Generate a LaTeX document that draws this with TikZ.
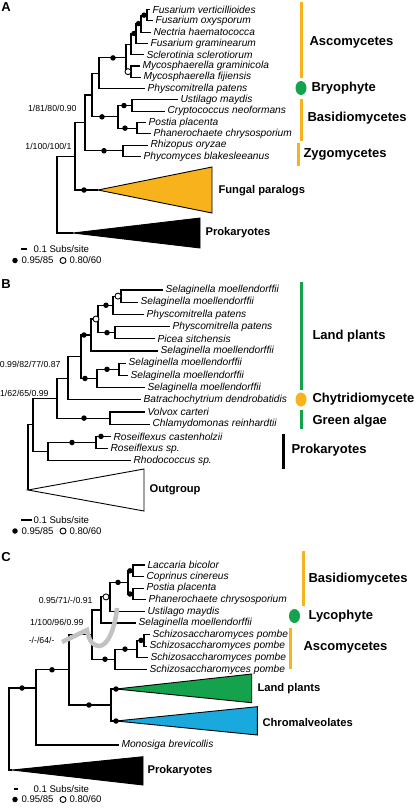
\documentclass[tikz,border=0pt]{standalone}
\usepackage{fontspec}
\setmainfont{Liberation Sans}
\usetikzlibrary{calc,shapes.geometric}

\definecolor{ambar}{HTML}{F8B31C}
\definecolor{leafgreen}{HTML}{14A24C}
\definecolor{skyblue}{HTML}{1AA9DC}
\definecolor{arcgrey}{HTML}{C2C2C2}

\tikzset{
  leaf/.style={anchor=west, inner sep=2pt, font=\fontsize{10.2}{12}\selectfont\itshape},
  grp/.style={anchor=west, inner sep=1pt, font=\fontsize{13}{15}\selectfont\bfseries},
  clade/.style={anchor=west, inner sep=2pt, font=\fontsize{11.2}{13}\selectfont\bfseries},
  supp/.style={anchor=east, inner sep=1pt, font=\fontsize{8.7}{10}\selectfont},
  lgd/.style={anchor=west, inner sep=1pt, font=\fontsize{9.6}{11}\selectfont},
  panel/.style={inner sep=0pt, font=\fontsize{13}{15}\selectfont\bfseries},
  fdot/.style={circle, fill=black, inner sep=0pt, minimum size=5.5pt},
  odot/.style={circle, draw=black, fill=white, inner sep=0pt, minimum size=6pt, line width=0.9pt},
  grpbar/.style={line width=3pt},
  blob/.style={ellipse, inner sep=0pt, minimum width=11pt, minimum height=14pt}
}

\begin{document}
\begin{tikzpicture}[x=1pt,y=-1pt,line width=1.1pt]
\useasboundingbox (0,0) rectangle (415,808);

% ===== Panel A =====
\node[panel] (pA) at (6,7) {A};

% Leaves
\node[leaf] (fv) at (150,9.5) {Fusarium verticillioides};
\node[leaf] (fo) at (153,20.8) {Fusarium oxysporum};
\node[leaf] (nh) at (151,32.1) {Nectria haematococca};
\node[leaf] (fg) at (148,43.4) {Fusarium graminearum};
\node[leaf] (ss) at (144,54.7) {Sclerotinia sclerotiorum};
\node[leaf] (mg) at (140,66) {Mycosphaerella graminicola};
\node[leaf] (mf) at (141,77.3) {Mycosphaerella fijiensis};
\node[leaf] (pp) at (145,88.6) {Physcomitrella patens};
\node[leaf] (um) at (178,99.9) {Ustilago maydis};
\node[leaf] (cn) at (165,111.2) {Cryptococcus neoformans};
\node[leaf] (pl) at (146,122.5) {Postia placenta};
\node[leaf] (pc) at (151,133.8) {Phanerochaete chrysosporium};
\node[leaf] (ro) at (148,145.1) {Rhizopus oryzae};
\node[leaf] (pb) at (141,156.4) {Phycomyces blakesleeanus};

% Internal nodes
\coordinate (a1) at (147,15.15);
\coordinate (a2) at (141,23.6);
\coordinate (a3) at (136,33.5);
\coordinate (a4) at (131,44.1);
\coordinate (a5) at (131,71.65);
\coordinate (a6) at (126,57.9);
\coordinate (a7) at (99,73.2);
\coordinate (b1) at (132,105.55);
\coordinate (b2) at (137,128.15);
\coordinate (b3) at (118,116.85);
\coordinate (za) at (123,150.75);
\coordinate (a8) at (92,95);
\coordinate (a9) at (85,122.9);
\coordinate (a10) at (75,156.5);
\coordinate (ra) at (57,233);
\coordinate (fpA) at (98,190);
\coordinate (pkA) at (73,233);

% Collapsed clades
\draw[fill=ambar, line width=0.9pt] (fpA) -- (212,167) -- (212,213) -- cycle;
\draw[fill=black, line width=0.9pt] (pkA) -- (200,218) -- (200,248) -- cycle;
\node[clade] (fpl) at (216,191) {Fungal paralogs};
\node[clade] (pkl) at (203,233) {Prokaryotes};

% Branches
\draw (a1) |- (fv.west) (a1) |- (fo.west);
\draw (a2) |- (a1) (a2) |- (nh.west);
\draw (a3) |- (a2) (a3) |- (fg.west);
\draw (a4) |- (a3) (a4) |- (ss.west);
\draw (a5) |- (mg.west) (a5) |- (mf.west);
\draw (a6) |- (a4) (a6) |- (a5);
\draw (a7) |- (a6) (a7) |- (pp.west);
\draw (b1) |- (um.west) (b1) |- (cn.west);
\draw (b2) |- (pl.west) (b2) |- (pc.west);
\draw (b3) |- (b1) (b3) |- (b2);
\draw (za) |- (ro.west) (za) |- (pb.west);
\draw (a8) |- (a7) (a8) |- (b3);
\draw (a9) |- (a8) (a9) |- (za);
\draw (a10) |- (a9) (a10) |- (fpA);
\draw (pkA) -- (ra) |- (a10);

% Support
\node[fdot] (d1) at ($(a1)+(-3,0)$) {};
\node[fdot] (d2) at ($(a2)+(-2.5,0)$) {};
\node[fdot] (d3) at ($(a3)+(-2,0)$) {};
\node[fdot] (d4) at ($(a6)+(-13,0)$) {};
\node[odot] (o1) at ($(a5)+(-3,0)$) {};
\node[fdot] (d5) at ($(b1)+(-8,0)$) {};
\node[fdot] (d6) at ($(b2)+(-12,0)$) {};
\node[fdot] (d7) at ($(b3)+(-16,0)$) {};
\node[fdot] (d8) at ($(za)+(-19,0)$) {};
\node[fdot] (d9) at ($(fpA)+(-14,0)$) {};
\node[supp] (s81) at (78,108) {1/81/80/0.90};
\node[supp] (s100) at (73,146) {1/100/100/1};

% Groups
\draw[grpbar, ambar] (301,2) -- (301,78);
\node[grp] (gasc) at (308,42.7) {Ascomycetes};
\node[blob, fill=leafgreen] (bry) at (301,88) {};
\node[grp] (gbry) at (310,88) {Bryophyte};
\draw[grpbar, ambar] (301,99) -- (301,141);
\node[grp] (gbas) at (306,118) {Basidiomycetes};
\draw[grpbar, ambar] (298,143) -- (298,166);
\node[grp] (gzyg) at (302,154) {Zygomycetes};

% Legend
\draw (21,249) -- (27,249);
\node[lgd] (scA) at (32,249) {0.1 Subs/site};
\node[fdot] (lfA) at (15,260.5) {};
\node[lgd] (lfAt) at (20,260.5) {0.95/85};
\node[odot] (loA) at (63,260.5) {};
\node[lgd] (loAt) at (68,260.5) {0.80/60};

% ===== Panel B =====
\node[panel] (pB) at (6,284) {B};

% Leaves
\node[leaf] (s0) at (163,290) {Selaginella moellendorffii};
\node[leaf] (s1) at (138,302.2) {Selaginella moellendorffii};
\node[leaf] (s2) at (144,314.4) {Physcomitrella patens};
\node[leaf] (s3) at (170,326.6) {Physcomitrella patens};
\node[leaf] (s4) at (155,338.8) {Picea sitchensis};
\node[leaf] (s5) at (158,351) {Selaginella moellendorffii};
\node[leaf] (s6) at (126,363.2) {Selaginella moellendorffii};
\node[leaf] (s7) at (128,375.4) {Selaginella moellendorffii};
\node[leaf] (s8) at (145,387.6) {Selaginella moellendorffii};
\node[leaf] (s9) at (141,399.8) {Batrachochytrium dendrobatidis};
\node[leaf] (s10) at (145,412) {Volvox carteri};
\node[leaf] (s11) at (150,424.2) {Chlamydomonas reinhardtii};
\node[leaf] (s12) at (111,436.4) {Roseiflexus castenholzii};
\node[leaf] (s13) at (108,448.6) {Roseiflexus sp.};
\node[leaf] (s14) at (131,460.8) {Rhodococcus sp.};

% Internal nodes
\coordinate (bb1) at (121,296.1);
\coordinate (bb2) at (113,305.25);
\coordinate (bb3) at (115,332.7);
\coordinate (bb4) at (98,319);
\coordinate (bb5) at (91,335);
\coordinate (bb6) at (119,369.3);
\coordinate (bb7) at (97,378.45);
\coordinate (bb8) at (81,356.7);
\coordinate (bb9) at (68,378.25);
\coordinate (bb10) at (110,418.1);
\coordinate (bb11) at (57,398.2);
\coordinate (rr1) at (96,442.5);
\coordinate (rr2) at (48,451.6);
\coordinate (bb12) at (33,424.9);
\coordinate (ogA) at (28,490);

% Outgroup
\draw[fill=white, line width=0.9pt] (ogA) -- (144,469) -- (144,511) -- cycle;
\node[clade] (ogl) at (147,490) {Outgroup};

% Branches
\draw (bb1) |- (s0.west) (bb1) |- (s1.west);
\draw (bb2) |- (bb1) (bb2) |- (s2.west);
\draw (bb3) |- (s3.west) (bb3) |- (s4.west);
\draw (bb4) |- (bb2) (bb4) |- (bb3);
\draw (bb5) |- (bb4) (bb5) |- (s5.west);
\draw (bb6) |- (s6.west) (bb6) |- (s7.west);
\draw (bb7) |- (bb6) (bb7) |- (s8.west);
\draw (bb8) |- (bb5) (bb8) |- (bb7);
\draw (bb9) |- (bb8) (bb9) |- (s9.west);
\draw (bb10) |- (s10.west) (bb10) |- (s11.west);
\draw (bb11) |- (bb9) (bb11) |- (bb10);
\draw (rr1) |- (s12.west) (rr1) |- (s13.west);
\draw (rr2) |- (rr1) (rr2) |- (s14.west);
\draw (bb12) |- (bb11) (bb12) |- (rr2);
\draw (ogA) |- (bb12);

% Support
\node[odot] (o2) at ($(bb1)+(-3,0)$) {};
\node[fdot] (e1) at ($(bb2)+(-7,0)$) {};
\node[fdot] (e2) at ($(bb3)+(-8,0)$) {};
\node[odot] (o3) at ($(bb4)+(-2,0)$) {};
\node[fdot] (e3) at ($(bb5)+(-7,0)$) {};
\node[fdot] (e4) at ($(bb6)+(-12,0)$) {};
\node[fdot] (e5) at ($(bb7)+(-12,0)$) {};
\node[fdot] (e6) at ($(bb10)+(-26,0)$) {};
\node[fdot] (e7) at ($(rr1)+(5,-6.1)$) {};
\node[fdot] (e8) at ($(rr1)+(-24,0)$) {};
\node[supp] (s99) at (62,364) {0.99/82/77/0.87};
\node[supp] (s62) at (50,393) {1/62/65/0.99};

% Groups
\draw[grpbar, leafgreen] (301,282) -- (301,390);
\node[grp] (glp) at (311,336) {Land plants};
\node[blob, fill=ambar] (chy) at (301,399.5) {};
\node[grp] (gchy) at (311,399.5) {Chytridiomycete};
\draw[grpbar, leafgreen] (301,410) -- (301,429);
\node[grp] (gga) at (311,421) {Green algae};
\draw[grpbar, black] (283.5,434) -- (283.5,469);
\node[grp] (gpk) at (290,450) {Prokaryotes};

% Legend
\draw (21,520) -- (32,520);
\node[lgd] (scB) at (32,520) {0.1 Subs/site};
\node[fdot] (lfB) at (15,531) {};
\node[lgd] (lfBt) at (20,531) {0.95/85};
\node[odot] (loB) at (63,531) {};
\node[lgd] (loBt) at (68,531) {0.80/60};

% ===== Panel C =====
\node[panel] (pC) at (6,557) {C};

% Leaves
\node[leaf] (l0) at (145,565) {Laccaria bicolor};
\node[leaf] (l1) at (144,576.6) {Coprinus cinereus};
\node[leaf] (l2) at (144,588.2) {Postia placenta};
\node[leaf] (l3) at (146,599.8) {Phanerochaete chrysosporium};
\node[leaf] (l4) at (145,611.4) {Ustilago maydis};
\node[leaf] (l5) at (136,623) {Selaginella moellendorffii};
\node[leaf] (l6) at (150,634.6) {Schizosaccharomyces pombe};
\node[leaf] (l7) at (147,646.2) {Schizosaccharomyces pombe};
\node[leaf] (l8) at (148,657.8) {Schizosaccharomyces pombe};
\node[leaf] (l9) at (147,669.4) {Schizosaccharomyces pombe};
\node[leaf] (lm) at (119,745) {Monosiga brevicollis};

% Internal nodes
\coordinate (c1) at (133,570.8);
\coordinate (c2) at (133,594);
\coordinate (c3) at (128,582.4);
\coordinate (c4) at (110,596.9);
\coordinate (c5) at (101,610);
\coordinate (q1) at (144,640.4);
\coordinate (q2) at (137,649.1);
\coordinate (q3) at (115,659.2);
\coordinate (c6) at (92,634.6);
\coordinate (lc) at (111,705);
\coordinate (c7) at (69,669.8);
\coordinate (c8) at (36,688);
\coordinate (rc) at (9,770);
\coordinate (lpA) at (116,689);
\coordinate (chA) at (116,721);
\coordinate (pkC) at (12,770);

% Collapsed clades
\draw[fill=leafgreen, line width=0.9pt] (lpA) -- (251.7,674) -- (251.7,702.7) -- cycle;
\draw[fill=skyblue, line width=0.9pt] (chA) -- (257.3,706.7) -- (257.3,735) -- cycle;
\draw[fill=black, line width=0.9pt] (pkC) -- (143,756.7) -- (143,785) -- cycle;
\node[clade] (lpl) at (255,689) {Land plants};
\node[clade] (chl) at (260,722) {Chromalveolates};
\node[clade] (pkCl) at (145,771) {Prokaryotes};

% Branches
\draw (c1) |- (l0.west) (c1) |- (l1.west);
\draw (c2) |- (l2.west) (c2) |- (l3.west);
\draw (c3) |- (c1) (c3) |- (c2);
\draw (c4) |- (c3) (c4) |- (l4.west);
\draw (c5) |- (c4) (c5) |- (l5.west);
\draw (q1) |- (l6.west) (q1) |- (l7.west);
\draw (q2) |- (q1) (q2) |- (l8.west);
\draw (q3) |- (q2) (q3) |- (l9.west);
\draw (c6) |- (c5) (c6) |- (q3);
\draw (lc) |- (lpA) (lc) |- (chA);
\draw (c7) |- (c6) (c7) |- (lc);
\draw (c8) |- (c7) (c8) |- (lm.west);
\draw (pkC) -- (rc) |- (c8);

% Moved lineage
\draw[arcgrey, line width=4.5pt] (62,642) -- (87,630) .. controls (89,641) and (93,646) .. (99,646) .. controls (108,646) and (115,628) .. (117,608);

% Support
\node[fdot] (f1) at ($(c1)+(-3,0)$) {};
\node[fdot] (f2) at ($(c2)+(-3,0)$) {};
\node[fdot] (f3) at ($(c3)+(-10,0)$) {};
\node[odot] (o4) at ($(c4)+(-4,0)$) {};
\node[fdot] (f4) at ($(q1)+(-3,0)$) {};
\node[fdot] (f5) at ($(q2)+(-12,0)$) {};
\node[fdot] (f6) at ($(q3)+(-10,0)$) {};
\node[fdot] (f7) at (lpA) {};
\node[fdot] (f8) at (chA) {};
\node[fdot] (f9) at ($(lc)+(-22,0)$) {};
\node[fdot] (f10) at ($(c7)+(-17,0)$) {};
\node[fdot] (f11) at ($(c8)+(-14,0)$) {};
\node[supp] (s95) at (94,600) {0.95/71/-/0.91};
\node[supp] (s96) at (85,622) {1/100/96/0.99};
\node[supp] (s64) at (56,640) {-/-/64/-};

% Groups
\draw[grpbar, ambar] (303,551) -- (303,606);
\node[grp] (gbasC) at (307,579) {Basidiomycetes};
\node[blob, fill=leafgreen] (lyc) at (294.5,616) {};
\node[grp] (glyc) at (307,616) {Lycophyte};
\draw[grpbar, ambar] (290,628) -- (290,669);
\node[grp] (gascC) at (302,647) {Ascomycetes};

% Legend
\draw (14,789) -- (17.5,789);
\node[lgd] (scC) at (32,789) {0.1 Subs/site};
\node[fdot] (lfC) at (15,799.5) {};
\node[lgd] (lfCt) at (20,799.5) {0.95/85};
\node[odot] (loC) at (63,799.5) {};
\node[lgd] (loCt) at (68,799.5) {0.80/60};
\end{tikzpicture}
\end{document}
